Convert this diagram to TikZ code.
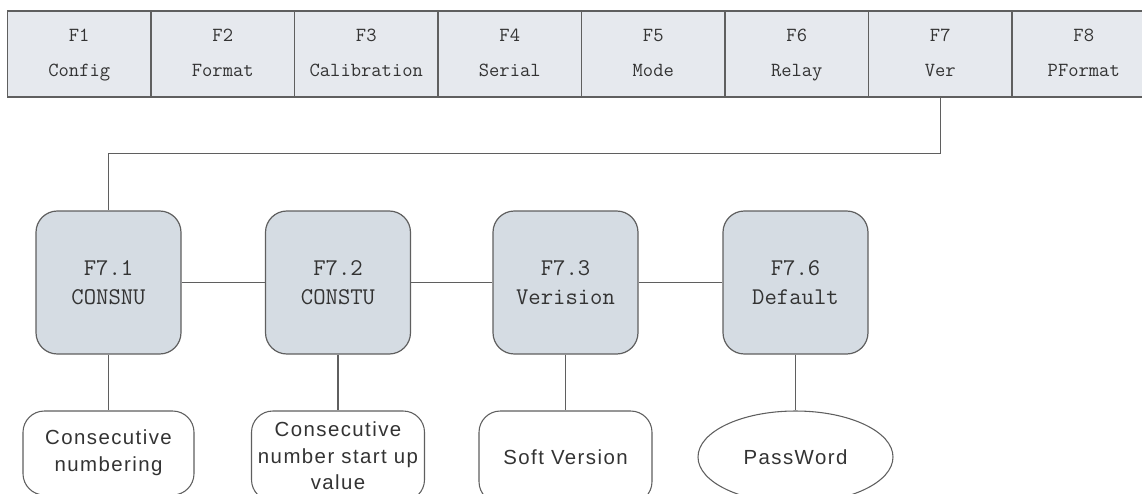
\documentclass[tikz,border=0pt]{standalone}
\usepackage{fontspec}
\setsansfont{Liberation Sans}
\newfontfamily\lblfont[LetterSpace=7]{Liberation Sans}
\usetikzlibrary{shapes.geometric}
\definecolor{barfill}{HTML}{E6E9EE}
\definecolor{boxfill}{HTML}{D5DCE3}
\definecolor{linecol}{HTML}{5F5F5F}
\definecolor{txtcol}{HTML}{333333}
\tikzset{
  cell/.style={draw=linecol, line width=1pt, fill=barfill, minimum width=143.5*0.75pt, minimum height=86*0.75pt, inner sep=0pt, align=center, text depth=2pt, text=txtcol, font=\ttfamily\fontsize{15pt}{26pt}\selectfont},
  fbox/.style={draw=linecol, line width=0.9pt, fill=boxfill, rounded corners=16pt, minimum width=145*0.75pt, minimum height=143*0.75pt, inner sep=0pt, align=center, text=txtcol, font=\ttfamily\fontsize{18pt}{22pt}\selectfont},
  leaf/.style={draw=linecol, line width=0.8pt, fill=white, rounded corners=16pt, inner sep=0pt, align=center, text=txtcol, font=\lblfont\fontsize{15.3pt}{20pt}\selectfont},
  oval/.style={draw=linecol, line width=0.8pt, fill=white, ellipse, inner sep=0pt, align=center, text=txtcol, font=\lblfont\fontsize{15.3pt}{20pt}\selectfont},
  conn/.style={draw=linecol, line width=0.9pt}
}
\begin{document}
\begin{tikzpicture}[x=0.75pt, y=-0.75pt]
\useasboundingbox (0,0) rectangle (1142,493);
\clip (0,0) rectangle (1142,493);
% top bar
\node[cell] (f1) at (79.25,54) {F1\\Config};
\node[cell] (f2) at (222.75,54) {F2\\Format};
\node[cell] (f3) at (366.25,54) {F3\\Calibration};
\node[cell] (f4) at (509.75,54) {F4\\Serial};
\node[cell] (f5) at (653.25,54) {F5\\Mode};
\node[cell] (f6) at (796.75,54) {F6\\Relay};
\node[cell] (f7) at (940.25,54) {F7\\Ver};
\node[cell] (f8) at (1083.75,54) {F8\\PFormat};
% function boxes
\node[fbox] (c1) at (108.5,282.5) {F7.1\\CONSNU};
\node[fbox] (c2) at (338,282.5) {F7.2\\CONSTU};
\node[fbox] (c3) at (565.5,282.5) {F7.3\\Verision};
\node[fbox] (c6) at (795.5,282.5) {F7.6\\Default};
% leaves
\node[leaf, minimum width=171*0.75pt, minimum height=84*0.75pt] (l1) at (108.5,453) {Consecutive\\numbering};
\node[leaf, minimum width=173*0.75pt, minimum height=90*0.75pt] (l2) at (338,456) {Consecutive\\number start up\\value};
\node[leaf, minimum width=173*0.75pt, minimum height=92*0.75pt] (l3) at (565.5,457) {Soft Version};
\node[oval, minimum width=195*0.75pt, minimum height=92*0.75pt] (l6) at (795.5,457) {PassWord};
% connectors
\draw[conn] (f7.south) -- ++(0,56) -| (c1.north);
\draw[conn] (c1.east) -- (c2.west);
\draw[conn] (c2.east) -- (c3.west);
\draw[conn] (c3.east) -- (c6.west);
\draw[conn] (c1.south) -- (l1.north);
\draw[conn] (c2.south) -- (l2.north);
\draw[conn] (c3.south) -- (l3.north);
\draw[conn] (c6.south) -- (l6.north);
\end{tikzpicture}
\end{document}
